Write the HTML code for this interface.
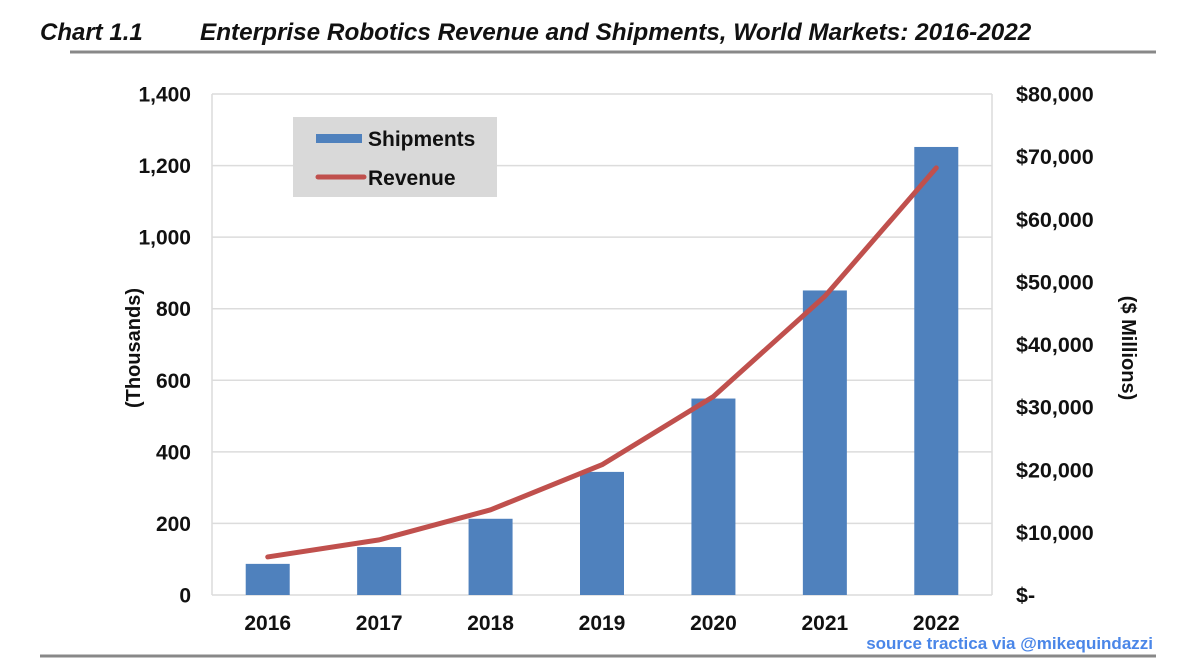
<!DOCTYPE html>
<html><head><meta charset="utf-8"><style>
body{margin:0;background:#fff;width:1200px;height:665px;overflow:hidden;font-family:"Liberation Sans",Arial,sans-serif}
</style></head><body>
<svg width="1200" height="665" xmlns="http://www.w3.org/2000/svg" font-family="Liberation Sans, Arial, sans-serif">
<text x="40" y="40" font-size="24" font-weight="bold" font-style="italic" fill="#111">Chart 1.1</text>
<text x="200" y="40" font-size="24.3" font-weight="bold" font-style="italic" fill="#111">Enterprise Robotics Revenue and Shipments, World Markets: 2016-2022</text>
<line x1="70" y1="52" x2="1156" y2="52" stroke="#888" stroke-width="3"/>
<line x1="40" y1="656" x2="1156" y2="656" stroke="#888" stroke-width="3"/>
<text x="1153" y="649" font-size="17" font-weight="bold" fill="#4a86e8" text-anchor="end">source tractica via @mikequindazzi</text>
<g id="grid"></g><g id="bars"></g><g id="line"></g><g id="axes"></g>
<text transform="translate(140,348) rotate(-90)" font-size="20" font-weight="bold" text-anchor="middle" fill="#111">(Thousands)</text>
<text transform="translate(1122,348) rotate(90)" font-size="20" font-weight="bold" text-anchor="middle" fill="#111">($ Millions)</text>
<g>
<rect x="293" y="117" width="204" height="80" fill="#d9d9d9"/>
<rect x="316" y="134" width="46" height="9" fill="#4f81bd"/>
<text x="368" y="146" font-size="21" font-weight="bold" fill="#111">Shipments</text>
<line x1="318" y1="177" x2="364" y2="177" stroke="#c0504d" stroke-width="5" stroke-linecap="round"/>
<text x="368" y="185" font-size="21" font-weight="bold" fill="#111">Revenue</text>
</g>
</svg>
<script>
const categories=["2016","2017","2018","2019","2020","2021","2022"];
const shipments=[87,134,213,344,549,851,1252];
const revenue=[6080,8800,13600,20800,31700,47700,68200];
const leftTicks=[0,200,400,600,800,1000,1200,1400];
const leftTickLabels=["0","200","400","600","800","1,000","1,200","1,400"];
const rightTicks=[0,10000,20000,30000,40000,50000,60000,70000,80000];
const rightTickLabels=["$-","$10,000","$20,000","$30,000","$40,000","$50,000","$60,000","$70,000","$80,000"];
const NS="http://www.w3.org/2000/svg";
const L=212,R=992,T=94,B=595;
const yL=v=>B-(v/1400)*(B-T);
const yR=v=>B-(v/80000)*(B-T);
const bw=(R-L)/categories.length;
const xC=i=>L+bw*(i+0.5);
function mk(tag,attrs,parent){const e=document.createElementNS(NS,tag);for(const k in attrs)e.setAttribute(k,attrs[k]);document.getElementById(parent).appendChild(e);return e;}
leftTicks.forEach((t,i)=>{
 const g=mk('line',{x1:L,x2:R,y1:yL(t),y2:yL(t),stroke:'#dcdcdc','stroke-width':1.5},'grid');
 
 
 const tx=mk('text',{x:191,y:yL(t)+7.5,'font-size':21,'font-weight':'bold','text-anchor':'end',fill:'#111'},'axes');
 tx.textContent=leftTickLabels[i];
 
 
});
const vl=mk('line',{x1:L,x2:L,y1:T,y2:B,stroke:'#dcdcdc','stroke-width':1.5},'grid');


const vr=mk('line',{x1:R,x2:R,y1:T,y2:B,stroke:'#dcdcdc','stroke-width':1.5},'grid');


rightTicks.forEach((t,i)=>{
 const tx=mk('text',{x:1016,y:yR(t)+7.5,'font-size':21.5,'font-weight':'bold',fill:'#111'},'axes');
 tx.textContent=rightTickLabels[i];
 
 
});
categories.forEach((c,i)=>{
 const r=mk('rect',{x:xC(i)-22,y:yL(shipments[i]),width:44,height:B-yL(shipments[i]),fill:'#4f81bd'},'bars');
 
 
 const tx=mk('text',{x:xC(i),y:630,'font-size':21,'font-weight':'bold','text-anchor':'middle',fill:'#111'},'axes');
 tx.textContent=c;
 
 
});
const pts=revenue.map((v,i)=>xC(i)+','+yR(v)).join(' ');
const pl=mk('polyline',{points:pts,fill:'none',stroke:'#c0504d','stroke-width':5,'stroke-linecap':'round','stroke-linejoin':'round'},'line');


</script>
</body></html>
